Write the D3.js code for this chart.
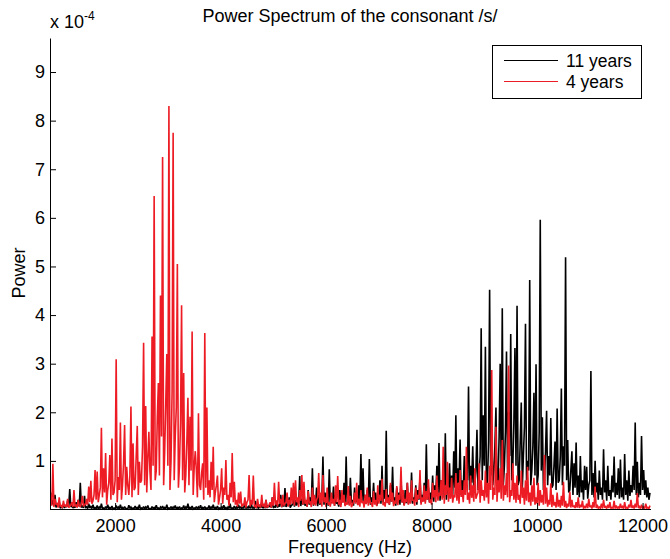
<!DOCTYPE html>
<html><head><meta charset="utf-8">
<script src="https://cdn.jsdelivr.net/npm/d3@7"></script>
<style>body{margin:0;background:#fff} svg{display:block} text{font-family:"Liberation Sans", Arial, sans-serif}</style>
</head><body><svg id="c" width="670" height="559"></svg>
<script>
// Frequency bins (Hz): regular FFT grid
const freqStart = 780, freqStep = 20;
// Power values in units of 1e-4
const power11 = [
0.35,0.10,0.20,0.08,0.30,0.04,0.10,0.06,0.15,0.03,0.05,0.04,0.12,0.03,0.08,0.05,0.18,0.06,0.42,0.05,
0.10,0.03,0.06,0.04,0.15,0.05,0.20,0.06,0.55,0.04,0.08,0.03,0.28,0.04,0.05,0.02,0.12,0.03,0.06,0.02,
0.10,0.02,0.04,0.02,0.08,0.01,0.05,0.02,0.12,0.02,0.03,0.01,0.06,0.02,0.10,0.01,0.04,0.02,0.07,0.01,
0.03,0.01,0.08,0.02,0.05,0.01,0.10,0.02,0.04,0.01,0.06,0.02,0.02,0.01,0.09,0.02,0.05,0.01,0.03,0.02,
0.07,0.01,0.04,0.02,0.10,0.01,0.03,0.02,0.06,0.01,0.05,0.02,0.08,0.01,0.02,0.01,0.06,0.02,0.04,0.01,
0.09,0.02,0.03,0.01,0.05,0.02,0.07,0.01,0.04,0.02,0.10,0.01,0.03,0.02,0.06,0.01,0.05,0.02,0.08,0.01,
0.04,0.02,0.06,0.01,0.03,0.02,0.08,0.01,0.05,0.02,0.12,0.01,0.04,0.02,0.07,0.01,0.03,0.02,0.06,0.01,
0.05,0.02,0.09,0.01,0.04,0.02,0.06,0.01,0.03,0.02,0.08,0.01,0.05,0.02,0.10,0.01,0.04,0.02,0.07,0.01,
0.03,0.02,0.06,0.01,0.09,0.02,0.04,0.01,0.05,0.02,0.12,0.01,0.03,0.02,0.07,0.01,0.05,0.02,0.10,0.02,
0.06,0.02,0.04,0.03,0.15,0.02,0.05,0.03,0.08,0.02,0.12,0.03,0.04,0.02,0.18,0.03,0.06,0.02,0.10,0.03,
0.15,0.03,0.05,0.04,0.20,0.03,0.08,0.05,0.12,0.04,0.25,0.03,0.06,0.05,0.18,0.04,0.10,0.06,0.30,0.05,
0.15,0.06,0.44,0.05,0.12,0.08,0.25,0.04,0.08,0.10,0.30,0.06,0.20,0.08,0.15,0.12,0.69,0.07,0.22,0.10,
0.35,0.08,0.12,0.06,0.40,0.10,0.25,0.15,0.85,0.08,0.20,0.12,0.45,0.07,0.30,0.10,0.15,0.20,1.09,0.10,
0.35,0.12,0.25,0.08,0.83,0.10,0.20,0.14,0.47,0.08,0.30,0.12,0.15,0.06,0.40,0.10,0.25,0.15,0.55,0.09,
1.09,0.12,0.30,0.10,0.65,0.14,0.20,0.08,0.45,0.16,0.25,0.10,0.50,0.20,1.14,0.15,0.85,0.10,0.30,0.12,
0.40,0.14,1.04,0.10,0.25,0.16,0.55,0.12,0.35,0.08,0.20,0.18,0.60,0.12,0.90,0.15,0.40,0.22,1.62,0.14,
0.30,0.10,0.50,0.16,0.88,0.12,0.25,0.08,0.45,0.14,0.35,0.10,0.60,0.15,0.20,0.09,0.40,0.13,0.55,0.11,
0.30,0.14,0.76,0.12,0.25,0.18,0.50,0.10,0.40,0.20,0.65,0.14,0.30,0.22,0.55,0.16,1.34,0.20,0.45,0.15,
0.35,0.20,0.70,0.16,0.50,0.28,0.90,0.22,1.37,0.18,0.60,0.30,0.80,0.24,1.57,0.20,0.45,0.35,0.95,0.25,
0.70,0.30,1.20,0.45,1.94,0.25,0.85,0.55,1.44,0.30,0.60,0.40,1.10,0.35,0.75,0.60,2.53,0.40,0.90,0.55,
1.30,0.35,0.50,0.80,1.64,0.40,0.70,1.10,3.73,0.60,1.94,0.90,3.35,0.45,0.60,1.40,4.52,0.70,1.60,0.50,
0.80,1.30,2.10,0.40,0.55,1.50,3.00,0.80,4.14,0.50,0.90,1.60,3.25,0.70,2.00,1.10,3.61,0.60,0.90,1.80,
3.32,0.90,4.19,0.50,0.60,1.40,2.20,0.45,1.10,1.70,3.82,0.60,1.00,0.80,4.72,0.50,0.80,1.30,2.40,0.70,
2.99,0.50,0.70,1.60,5.96,0.80,1.90,0.40,0.60,1.20,2.03,0.50,1.10,0.70,1.88,0.45,0.50,0.90,1.40,0.40,
2.08,0.55,0.60,1.10,2.49,0.50,1.30,0.90,5.19,0.60,1.43,0.35,0.40,0.80,1.20,0.30,0.95,0.45,1.38,0.30,
0.70,0.25,1.10,0.35,0.60,0.20,0.90,0.40,0.88,0.22,0.50,0.60,2.85,0.30,0.75,0.25,1.00,0.35,0.55,0.20,
0.80,0.30,0.45,0.20,1.24,0.35,0.60,0.18,0.90,0.28,0.40,0.20,0.70,0.35,1.09,0.25,0.55,0.30,0.85,0.22,
1.03,0.25,0.45,0.20,1.14,0.30,0.60,0.18,0.80,0.28,0.50,0.35,0.90,0.40,1.79,0.30,0.98,0.25,0.55,0.30,
1.51,0.40,0.81,0.30,0.60,0.25,0.45,0.20,0.34
];
const power4 = [
0.30,0.08,0.94,0.05,0.22,0.10,0.12,0.04,0.25,0.07,0.08,0.03,0.18,0.06,0.10,0.05,0.22,0.04,0.06,0.09,
0.15,0.05,0.40,0.06,0.10,0.04,0.20,0.08,0.05,0.12,0.28,0.06,0.12,0.09,0.22,0.10,0.47,0.15,0.59,0.12,
0.18,0.30,0.81,0.20,0.78,0.15,0.30,0.45,1.68,0.25,0.85,0.35,1.16,0.10,0.40,0.55,1.12,0.20,1.46,0.30,
0.35,0.60,3.09,0.15,0.67,0.40,1.79,0.20,0.50,0.95,1.74,0.30,0.88,0.50,0.30,0.70,2.12,0.25,1.36,0.40,
0.45,1.10,1.72,0.30,0.98,0.55,0.60,1.30,3.43,0.50,2.13,0.35,1.05,1.60,0.80,0.40,3.56,0.90,6.45,0.60,
0.80,1.90,2.60,0.70,4.40,1.50,7.25,0.50,1.20,2.20,3.20,0.90,8.30,0.40,1.00,2.40,7.75,0.60,1.50,2.10,
5.05,0.45,0.90,1.80,4.20,0.60,2.81,0.35,0.70,1.40,2.30,0.50,1.91,0.80,3.66,0.30,0.90,1.20,0.81,0.25,
1.98,0.50,0.40,0.75,0.95,0.20,3.63,0.45,2.10,0.30,0.60,0.25,0.98,0.40,1.29,0.15,0.35,0.50,0.70,0.10,
0.25,0.40,0.85,0.12,0.45,0.30,1.02,0.20,0.30,0.08,0.55,0.25,1.16,0.15,0.57,0.10,0.20,0.06,0.35,0.12,
0.37,0.05,0.12,0.08,0.25,0.04,0.15,0.20,0.71,0.06,0.20,0.10,0.70,0.05,0.10,0.03,0.22,0.07,0.08,0.04,
0.30,0.06,0.12,0.04,0.20,0.05,0.06,0.10,0.15,0.04,0.25,0.08,0.55,0.10,0.18,0.06,0.57,0.12,0.22,0.05,
0.30,0.08,0.12,0.15,0.35,0.06,0.20,0.10,0.45,0.12,0.55,0.08,0.60,0.15,0.25,0.05,0.40,0.18,0.71,0.10,
0.57,0.12,0.20,0.06,0.38,0.14,0.15,0.05,0.45,0.10,0.30,0.08,0.20,0.25,0.75,0.12,0.35,0.06,0.71,0.15,
0.25,0.05,0.45,0.10,0.15,0.06,0.35,0.12,0.22,0.08,0.50,0.15,0.69,0.10,0.20,0.05,0.40,0.14,0.30,0.07,
0.15,0.10,0.48,0.08,0.28,0.05,0.10,0.16,0.35,0.12,0.55,0.09,0.22,0.06,0.40,0.13,0.18,0.04,0.30,0.11,
0.45,0.08,0.25,0.14,0.12,0.05,0.38,0.10,0.20,0.07,0.50,0.12,0.30,0.18,0.63,0.09,0.15,0.06,0.42,0.13,
0.25,0.10,0.55,0.16,0.35,0.07,0.18,0.12,0.48,0.09,0.30,0.20,0.88,0.14,0.40,0.08,0.22,0.15,0.55,0.10,
0.35,0.12,0.60,0.18,0.20,0.08,0.45,0.15,0.30,0.22,0.81,0.10,0.25,0.16,0.50,0.12,0.38,0.20,0.62,0.14,
0.20,0.10,0.55,0.25,0.40,0.15,0.70,0.18,0.35,0.28,0.60,0.20,1.29,0.12,0.50,0.30,0.98,0.16,0.45,0.22,
0.65,0.14,0.30,0.25,0.75,0.18,0.55,0.12,0.81,0.26,0.40,0.15,0.60,0.30,1.29,0.20,0.35,0.12,0.70,0.24,
0.50,0.16,0.85,0.22,0.30,0.35,0.95,0.14,0.60,0.28,0.40,0.18,0.80,0.25,0.55,0.12,0.90,0.40,2.87,0.20,
0.45,0.30,1.70,0.16,0.60,0.35,0.85,0.22,1.43,0.18,0.50,0.30,0.75,0.25,2.96,0.15,0.40,0.28,0.95,0.20,
0.55,0.14,0.70,0.20,0.30,0.12,0.80,0.24,0.45,0.10,0.60,0.18,0.88,0.15,0.35,0.08,0.50,0.16,0.65,0.10,
0.25,0.12,0.55,0.08,0.40,0.14,0.30,0.10,1.12,0.12,0.45,0.06,0.20,0.10,0.54,0.05,0.30,0.08,0.15,0.04,
0.35,0.06,0.20,0.04,0.28,0.08,0.57,0.05,0.18,0.03,0.12,0.06,0.37,0.04,0.20,0.05,0.08,0.03,0.15,0.04,
0.25,0.03,0.10,0.05,0.18,0.02,0.06,0.04,0.12,0.03,0.22,0.05,0.08,0.02,0.15,0.04,0.47,0.03,0.10,0.02,
0.05,0.03,0.12,0.02,0.20,0.04,0.06,0.02,0.10,0.03,0.15,0.02,0.04,0.03,0.18,0.02,0.08,0.03,0.05,0.02,
0.12,0.03,0.06,0.02,0.15,0.03,0.04,0.02,0.10,0.04,0.20,0.03,0.08,0.02,0.12,0.04,0.34,0.03,0.06,0.02,
0.10,0.03,0.05,0.02,0.12,0.03,0.04,0.02,0.08
];
const seriesNames = ["11 years", "4 years"];
const seriesColors = ["#000000", "#ED1C24"];
const xTicks = [2000, 4000, 6000, 8000, 10000, 12000];
const yTicks = [1, 2, 3, 4, 5, 6, 7, 8, 9];

const svg = d3.select("#c");
const x = d3.scaleLinear().domain([775, 12150]).range([50.5, 650.5]);
const y = d3.scaleLinear().domain([0, 9.7]).range([509.5, 38]);

const freqs = power11.map((_, i) => freqStart + i * freqStep);
const series = [power11, power4];

const line = d3.line().x(d => x(d[0])).y(d => y(d[1]));
series.forEach((vals, k) => {
  svg.append("path")
    .datum(vals.map((v, i) => [freqs[i], v]))
    .attr("d", line)
    .attr("fill", "none")
    .attr("stroke", seriesColors[k])
    .attr("stroke-width", 1.6)
    .attr("stroke-linejoin", "miter")
    .attr("stroke-miterlimit", 2);
});

// Axes
const fs = 18;
const gx = svg.append("g").attr("transform", "translate(0,509)")
  .call(d3.axisBottom(x).tickValues(xTicks).tickFormat(d3.format("d")).tickSizeInner(-6).tickSizeOuter(0).tickPadding(10));
const gy = svg.append("g").attr("transform", "translate(50,0)")
  .call(d3.axisLeft(y).tickValues(yTicks).tickFormat(d3.format("d")).tickSizeInner(-6).tickSizeOuter(0).tickPadding(5));
[gx, gy].forEach(g => {
  g.attr("font-family", null).attr("font-size", null);
  g.selectAll("text").attr("font-size", fs).attr("fill", "#000");
  g.selectAll("line").attr("stroke", "#000");
  g.select(".domain").attr("stroke", "#000");
});

// Exponent label
const ex = svg.append("text").attr("x", 50).attr("y", 28).attr("font-size", fs).attr("fill", "#000");
ex.append("tspan").text("x 10");
ex.append("tspan").attr("font-size", 12).attr("dy", -8).text("-4");

// Title and axis labels
svg.append("text").attr("x", 350).attr("y", 22).attr("text-anchor", "middle")
  .attr("font-size", fs).text("Power Spectrum of the consonant /s/");
svg.append("text").attr("x", 350).attr("y", 553).attr("text-anchor", "middle")
  .attr("font-size", fs).text("Frequency (Hz)");
svg.append("text").attr("transform", "translate(25,273) rotate(-90)").attr("text-anchor", "middle")
  .attr("font-size", fs).text("Power");

// Legend
const lg = svg.append("g");
lg.append("rect").attr("x", 492.5).attr("y", 45.5).attr("width", 149).attr("height", 53)
  .attr("fill", "#fff").attr("stroke", "#000").attr("stroke-width", 1);
seriesNames.forEach((name, k) => {
  const yy = 60.5 + k * 21;
  lg.append("line").attr("x1", 504).attr("x2", 558).attr("y1", yy).attr("y2", yy)
    .attr("stroke", seriesColors[k]).attr("stroke-width", 1);
  lg.append("text").attr("x", 566).attr("y", yy + 6.5).attr("font-size", 17.5).text(name);
});
</script>
</body></html>
